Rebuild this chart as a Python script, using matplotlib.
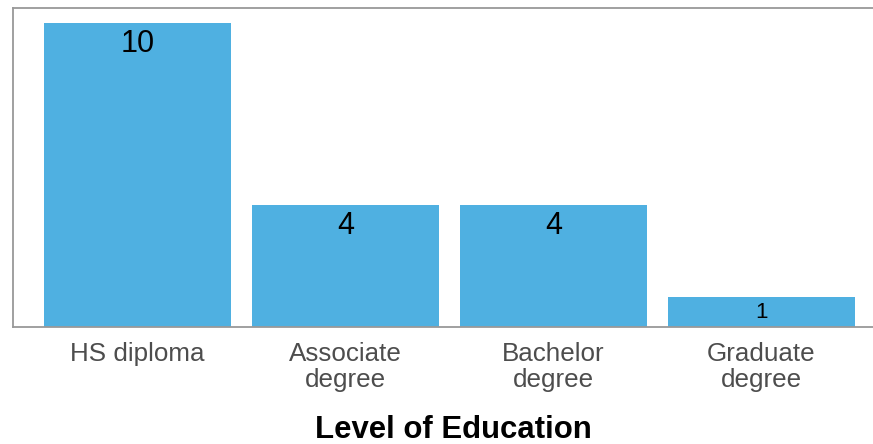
import numpy as np
import matplotlib.pyplot as plt

plt.rcParams['font.family'] = ['Liberation Sans', 'DejaVu Sans']

levels = ["HS diploma", "Associate\ndegree", "Bachelor\ndegree", "Graduate\ndegree"]
counts = [10, 4, 4, 1]
label_sizes = [22, 22, 22, 16]

W, H = 873, 444
fig = plt.figure(figsize=(W / 100, H / 100), dpi=100)
# axes box in pixels: left 13, right ~886 (cut off), top 8, bottom 327
ax = fig.add_axes([13 / W, (H - 327) / H, (886 - 13) / W, (327 - 8) / H])

x = np.arange(1, len(counts) + 1)
ax.bar(x, counts, width=0.9, color="#4FB0E1")
for xi, c, fs in zip(x, counts, label_sizes):
    off = 0.68 if fs > 20 else 0.52
    ax.text(xi, c - off, str(c), ha="center", va="center", fontsize=fs, color="black")

ax.set_xlim(0.4, 4.6)
ax.set_ylim(0, 10.49)
ax.set_xticks(x)
ax.set_xticklabels(levels, fontsize=18.7, color="#4D4D4D", linespacing=1.1)
ax.tick_params(axis="x", length=0, pad=11)
ax.set_yticks([])
for s in ["left", "top", "bottom", "right"]:
    ax.spines[s].set_color("#999999")
    ax.spines[s].set_linewidth(1.3)

fig.text(453 / W, 1 - 438 / H, "Level of Education", ha="center", va="baseline",
         fontsize=22.4, fontweight="bold", color="black")

fig.savefig("out.png", dpi=100)
